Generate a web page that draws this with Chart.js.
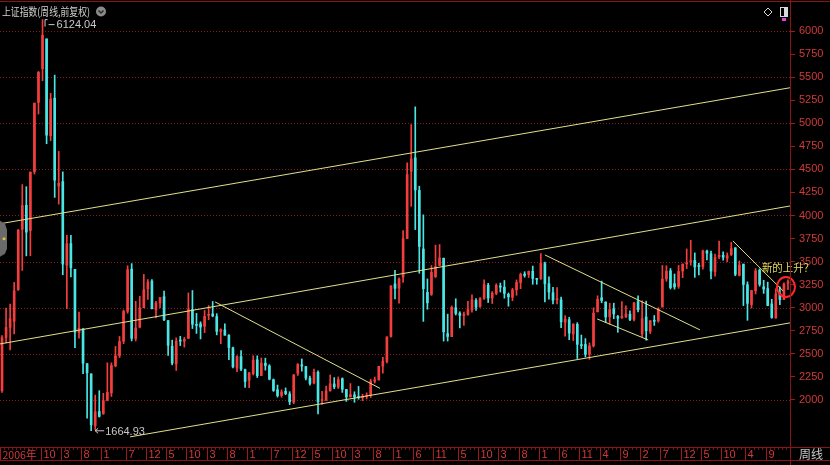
<!DOCTYPE html>
<html>
<head>
<meta charset="utf-8">
<script src="https://cdn.jsdelivr.net/npm/chart.js@4.4.0/dist/chart.umd.min.js"></script>
<style>
  html, body { margin: 0; padding: 0; background: #000; }
  #wrap { width: 830px; height: 465px; }
</style>
</head>
<body>
<div id="wrap"><canvas id="c"></canvas></div>
<script>
// 上证指数 monthly candles, Dec 2006 .. Feb 2023
const open = [
  2100,
  2676, 2786, 2852, 3197, 3850, 4110, 3836, 4474, 5227, 5592, 5915, 4864,
  5272, 4320, 4367, 3460, 3696, 3415, 2730, 2771, 2393, 2282, 1719, 1874,
  1849, 1996, 2076, 2370, 2479, 2636, 2962, 3418, 2665, 2789, 3000, 3205,
  3289, 2976, 3050, 3120, 2860, 2582, 2390, 2647, 2637, 2668, 2980, 2815,
  2825, 2798, 2918, 2932, 2904, 2742, 2759, 2700, 2564, 2344, 2470, 2328,
  2212, 2284, 2434, 2264, 2398, 2368, 2219, 2110, 2048, 2093, 2064, 1974,
  2289, 2382, 2361, 2234, 2183, 2300, 1993, 1996, 2099, 2173, 2139, 2231,
  2113, 2033, 2055, 2033, 2024, 2037, 2050, 2203, 2216, 2366, 2418, 2688,
  3258, 3212, 3333, 3750, 4479, 4625, 4272, 3636, 3166, 3144, 3337, 3456,
  3536, 2718, 2686, 3000, 2940, 2916, 2925, 2976, 3079, 3014, 3102, 3244,
  3105, 3155, 3235, 3222, 3145, 3112, 3194, 3273, 3365, 3360, 3395, 3315,
  3314, 3478, 3260, 3163, 3087, 3084, 2842, 2870, 2716, 2819, 2598, 2601,
  2497, 2586, 2955, 3107, 3061, 2903, 2986, 2905, 2890, 2904, 2928, 2873,
  3067, 2716, 2899, 2743, 2864, 2857, 3007, 3312, 3400, 3260, 3232, 3398,
  3475, 3496, 3513, 3451, 3446, 3614, 3585, 3391, 3551, 3568, 3537, 3576,
  3649, 3350, 3472, 3249, 3034, 3183, 3408, 3226, 3207, 3041, 2888, 3157,
  3088, 3266
];
const high = [
  2698,
  2995, 3040, 3274, 3848, 4335, 4312, 4471, 5219, 5562, 6124.04, 5915, 5325,
  5522, 4695, 4473, 3786, 3786, 3415, 2952, 2774, 2393, 2282, 2052, 2100,
  2071, 2402, 2402, 2579, 2688, 2975, 3455, 3478, 3069, 3124, 3361, 3305,
  3306, 3069, 3110, 3181, 2860, 2648, 2673, 2690, 2678, 3160, 3186, 2938,
  2847, 2970, 3023, 3067, 2935, 2771, 2826, 2707, 2573, 2481, 2536, 2333,
  2300, 2479, 2478, 2454, 2453, 2382, 2227, 2161, 2110, 2130, 2089, 2276,
  2394, 2444, 2363, 2258, 2335, 2315, 2092, 2149, 2270, 2242, 2249, 2239,
  2114, 2177, 2088, 2146, 2062, 2077, 2224, 2248, 2365, 2461, 2683, 3239,
  3406, 3324, 3835, 4572, 4986, 5178, 4318, 4007, 3312, 3457, 3679, 3685,
  3538, 2930, 3019, 3097, 2956, 2951, 3070, 3140, 3098, 3110, 3301, 3264,
  3175, 3260, 3267, 3295, 3160, 3210, 3301, 3376, 3390, 3398, 3451, 3317,
  3587, 3495, 3334, 3220, 3219, 3114, 2915, 2895, 2827, 2838, 2703, 2665,
  2618, 2998, 3129, 3288, 3064, 3048, 3049, 2916, 3067, 3021, 2967, 3058,
  3128, 3075, 3071, 2858, 2915, 3000, 3458, 3455, 3425, 3365, 3458, 3474,
  3637, 3731, 3594, 3481, 3626, 3624, 3613, 3580, 3723, 3605, 3594, 3708,
  3651, 3507, 3473, 3280, 3188, 3424, 3421, 3297, 3277, 3091, 3205, 3226,
  3269, 3301
];
const low = [
  2080,
  2617, 2541, 2716, 3187, 3404, 3562, 3563, 4450, 5100, 5462, 4778, 4812,
  4196, 4123, 3357, 2990, 3333, 2566, 2670, 2284, 1802, 1664.93, 1678, 1814,
  1844, 1990, 2037, 2359, 2459, 2610, 2940, 2640, 2639, 2781, 2999, 3090,
  2986, 2890, 2997, 2860, 2481, 2380, 2319, 2589, 2572, 2665, 2774, 2721,
  2661, 2730, 2869, 2901, 2705, 2610, 2701, 2437, 2348, 2307, 2317, 2134,
  2132, 2270, 2242, 2264, 2323, 2217, 2092, 2030, 2029, 2056, 1949, 1959,
  2265, 2312, 2217, 2161, 2174, 1849, 1951, 1993, 2094, 2121, 2123, 2081,
  1984, 2031, 1974, 2007, 1991, 2010, 2026, 2183, 2216, 2291, 2402, 2680,
  3095, 3050, 3273, 3748, 4099, 3847, 3373, 2851, 2983, 3133, 3327, 3476,
  2638, 2638, 2685, 2920, 2781, 2807, 2918, 2952, 2969, 3002, 3089, 3056,
  3045, 3140, 3170, 3103, 3016, 3075, 3135, 3206, 3331, 3328, 3254, 3254,
  3307, 3062, 3091, 3041, 3041, 2782, 2691, 2653, 2644, 2449, 2556, 2465,
  2440, 2573, 2954, 3053, 2838, 2822, 2880, 2733, 2884, 2891, 2858, 2857,
  2955, 2685, 2647, 2719, 2808, 2842, 3007, 3286, 3202, 3200, 3210, 3326,
  3424, 3461, 3329, 3356, 3417, 3518, 3312, 3342, 3531, 3515, 3498, 3565,
  3346, 3344, 3023, 2863, 2997, 3149, 3233, 3155, 3021, 2885, 2886, 3032,
  3086, 3196
];
const close = [
  2675,
  2786, 2881, 3183, 3841, 4109, 3820, 4471, 5218, 5552, 5954, 4871, 5262,
  4383, 4348, 3473, 3693, 3433, 2736, 2776, 2397, 2293, 1729, 1871, 1821,
  1991, 2082, 2373, 2477, 2633, 2959, 3412, 2668, 2779, 2996, 3195, 3277,
  2989, 3051, 3110, 2870, 2592, 2398, 2638, 2638, 2656, 2979, 2820, 2808,
  2790, 2905, 2928, 2911, 2743, 2762, 2701, 2567, 2359, 2468, 2333, 2199,
  2292, 2428, 2262, 2397, 2373, 2225, 2103, 2047, 2086, 2069, 1980, 2269,
  2385, 2366, 2237, 2178, 2301, 1979, 1994, 2098, 2175, 2141, 2220, 2116,
  2033, 2056, 2033, 2026, 2039, 2048, 2202, 2217, 2364, 2420, 2683, 3235,
  3210, 3310, 3748, 4442, 4612, 4277, 3664, 3206, 3053, 3383, 3445, 3539,
  2738, 2688, 3004, 2938, 2917, 2930, 2979, 3085, 3005, 3100, 3250, 3104,
  3159, 3242, 3223, 3155, 3117, 3192, 3273, 3361, 3349, 3393, 3317, 3307,
  3481, 3259, 3169, 3082, 3095, 2847, 2876, 2725, 2821, 2603, 2588, 2494,
  2585, 2941, 3091, 3078, 2899, 2979, 2932, 2886, 2905, 2929, 2872, 3050,
  2977, 2880, 2750, 2860, 2852, 2985, 3310, 3396, 3218, 3225, 3392, 3473,
  3483, 3509, 3442, 3447, 3615, 3591, 3397, 3544, 3568, 3547, 3564, 3640,
  3362, 3462, 3252, 3047, 3186, 3399, 3253, 3202, 3024, 2893, 3151, 3089,
  3256, 3279
];

// month categories, first one is 2006-12
const months = [];
for (let y = 2006, m = 12; months.length < close.length; ) {
  months.push(y + '-' + String(m).padStart(2, '0'));
  if (++m > 12) { m = 1; y++; }
}

// bottom axis labels
const xTicks = [
  ['2006-12', '2006年'], ['2007-10', '10'], ['2008-03', '3'], ['2008-08', '8'],
  ['2009-01', '1'], ['2009-07', '7'], ['2009-12', '12'], ['2010-05', '5'],
  ['2010-10', '10'], ['2011-03', '3'], ['2011-08', '8'], ['2012-01', '1'],
  ['2012-07', '7'], ['2012-12', '12'], ['2013-05', '5'], ['2013-10', '10'],
  ['2014-03', '3'], ['2014-08', '8'], ['2015-01', '1'], ['2015-06', '6'],
  ['2015-11', '11'], ['2016-05', '5'], ['2016-10', '10'], ['2017-03', '3'],
  ['2017-08', '8'], ['2018-01', '1'], ['2018-06', '6'], ['2018-11', '11'],
  ['2019-04', '4'], ['2019-09', '9'], ['2020-02', '2'], ['2020-07', '7'],
  ['2020-12', '12'], ['2021-05', '5'], ['2021-10', '10'], ['2022-04', '4'],
  ['2022-09', '9']
];
const yMin = 1500, yMax = 6250, yStep = 250;
const gridValues = [2000, 2500, 3000, 3500, 4000, 4500, 5000, 5500, 6000];

// hand drawn lines: [month index, price] -> [month index, price]
const trendLines = [
  [[-0.5, 3910], [194.5, 5385]],
  [[-0.5, 2607], [194.5, 4103]],
  [[31.6, 1599], [194.5, 2835]],
  [[52.6, 3062], [93.3, 2125]],
  [[134.0, 3572], [172.3, 2759]],
  [[146.9, 2878], [159.5, 2650]],
  [[180.4, 3724], [192.8, 3182]]
];
const peakLabel = { month: '2007-10', value: 6124.04, text: '6124.04' };
const lowLabel = { month: '2008-10', value: 1664.93, text: '1664.93' };
const noteText = '新的上升？';
const noteValue = 3225;

const UP = '#f43e3e', DOWN = '#4ae6e6';
const colors = close.map((c, i) => c >= open[i] ? UP : DOWN);
const CJK = '"Noto Sans CJK SC", sans-serif';
const NUM = '"Liberation Sans", Arial, sans-serif';

// dotted price grid, under the candles
const grid = {
  id: 'dotgrid',
  beforeDatasetsDraw(chart) {
    const { ctx, chartArea: a, scales: { y } } = chart;
    ctx.save();
    ctx.fillStyle = '#8c1a1a';
    gridValues.forEach(v => {
      const gy = Math.round(y.getPixelForValue(v));
      for (let gx = a.left; gx < a.right; gx += 3) ctx.fillRect(gx, gy, 1, 1);
    });
    ctx.restore();
  }
};

const decor = {
  id: 'decor',
  afterDatasetsDraw(chart) {
    const { ctx, chartArea: a, scales: { x, y } } = chart;
    ctx.save();
    ctx.beginPath();
    ctx.rect(a.left, a.top, a.right - a.left, a.bottom - a.top);
    ctx.clip();
    ctx.strokeStyle = '#e0e08c';
    ctx.lineWidth = 1;
    trendLines.forEach(([p, q]) => {
      ctx.beginPath();
      ctx.moveTo(x.getPixelForValue(p[0]), y.getPixelForValue(p[1]));
      ctx.lineTo(x.getPixelForValue(q[0]), y.getPixelForValue(q[1]));
      ctx.stroke();
    });
    ctx.restore();

    ctx.save();
    // left handle of the upper line
    const hy = y.getPixelForValue(trendLines[0][0][1]);
    ctx.fillStyle = '#6a6a6a';
    ctx.beginPath();
    ctx.moveTo(0, hy - 3); ctx.lineTo(5, hy); ctx.lineTo(7, hy + 6);
    ctx.lineTo(7, hy + 25); ctx.lineTo(5, hy + 30); ctx.lineTo(0, hy + 33);
    ctx.closePath(); ctx.fill();
    ctx.fillStyle = '#e0c040';
    ctx.beginPath(); ctx.arc(4, hy + 15, 1.5, 0, Math.PI * 2); ctx.fill();

    // extreme labels
    ctx.strokeStyle = '#c8c8c8';
    ctx.fillStyle = '#c8c8c8';
    ctx.font = '11px ' + NUM;
    ctx.textBaseline = 'middle';
    let px = x.getPixelForValue(months.indexOf(peakLabel.month));
    let py = y.getPixelForValue(peakLabel.value);
    ctx.beginPath();
    ctx.moveTo(px + 2.5, py + 7); ctx.lineTo(px + 2.5, py); ctx.lineTo(px + 5, py);
    ctx.moveTo(px + 6, py + 5); ctx.lineTo(px + 12, py + 5);
    ctx.stroke();
    ctx.fillText(peakLabel.text, px + 14, py + 5);

    px = x.getPixelForValue(months.indexOf(lowLabel.month));
    py = y.getPixelForValue(lowLabel.value);
    ctx.beginPath();
    ctx.moveTo(px + 4, py); ctx.lineTo(px + 13, py);
    ctx.moveTo(px + 7, py - 2.5); ctx.lineTo(px + 4, py); ctx.lineTo(px + 7, py + 2.5);
    ctx.stroke();
    ctx.fillText(lowLabel.text, px + 14, py + 1);

    // circle + note
    const cx = x.getPixelForValue(months.length - 1) - 2;
    const cy = y.getPixelForValue(noteValue);
    ctx.strokeStyle = '#ff2828';
    ctx.lineWidth = 2;
    ctx.beginPath(); ctx.ellipse(cx, cy, 9, 10, 0, 0, Math.PI * 2); ctx.stroke();
    ctx.fillStyle = '#e6dc5a';
    ctx.font = '11px ' + CJK;
    ctx.fillText(noteText, cx - 24, cy - 19, 52);

    // frame
    ctx.lineWidth = 1;
    ctx.strokeStyle = '#8c1414';
    ctx.beginPath();
    ctx.moveTo(0, 1.5); ctx.lineTo(830, 1.5);
    ctx.moveTo(a.right + 0.5, 0); ctx.lineTo(a.right + 0.5, 465);
    ctx.moveTo(0, a.bottom + 1.5); ctx.lineTo(830, a.bottom + 1.5);
    ctx.moveTo(0, a.bottom + 14.5); ctx.lineTo(830, a.bottom + 14.5);
    ctx.stroke();

    // bottom axis
    const w = (x.getPixelForValue(1) - x.getPixelForValue(0));
    ctx.strokeStyle = '#7a1010';
    ctx.beginPath();
    for (let i = 0; i < months.length; i++) {
      const bx = Math.round(x.getPixelForValue(i) - w / 2) + 0.5;
      ctx.moveTo(bx, a.bottom + 2); ctx.lineTo(bx, a.bottom + 4);
    }
    ctx.stroke();
    ctx.strokeStyle = '#a01818';
    ctx.fillStyle = '#d03a3a';
    xTicks.forEach(([m, t]) => {
      const bx = Math.round(x.getPixelForValue(months.indexOf(m)) - w / 2) + 0.5;
      ctx.beginPath(); ctx.moveTo(bx, a.bottom + 2); ctx.lineTo(bx, a.bottom + 14); ctx.stroke();
      const cjk = /年/.test(t);
      ctx.font = '11px ' + (cjk ? CJK : NUM);
      ctx.fillText(t, bx + 2, a.bottom + 8.5, cjk ? 34 : 30);
    });
    ctx.fillStyle = '#c8c8c8';
    ctx.font = '12px ' + CJK;
    ctx.fillText('周线', 799, a.bottom + 8.5);

    // title
    ctx.fillStyle = '#d0d0d0';
    ctx.font = '11px ' + CJK;
    ctx.fillText('上证指数(周线,前复权)', 2, 12, 88);
    ctx.fillStyle = '#8a8a8a';
    ctx.beginPath(); ctx.arc(101, 11.5, 5, 0, Math.PI * 2); ctx.fill();
    ctx.strokeStyle = '#2a2a2a';
    ctx.lineWidth = 1.5;
    ctx.beginPath(); ctx.moveTo(98.5, 10.5); ctx.lineTo(101, 13); ctx.lineTo(103.5, 10.5); ctx.stroke();

    // top right icons
    ctx.lineWidth = 1;
    ctx.strokeStyle = '#d8d8d8';
    ctx.beginPath();
    ctx.moveTo(768, 8); ctx.lineTo(772, 12); ctx.lineTo(768, 16); ctx.lineTo(764, 12); ctx.closePath();
    ctx.stroke();
    ctx.strokeRect(780.5, 7.5, 7, 9);
    ctx.fillStyle = '#d8d8d8';
    ctx.fillRect(784, 8, 3, 8);
    ctx.fillStyle = '#e040e0';
    ctx.fillRect(782, 18, 4, 3);
    ctx.restore();
  }
};

new Chart(document.getElementById('c'), {
  type: 'bar',
  data: {
    labels: months,
    datasets: [
      {
        data: months.map((_, i) => [open[i], close[i]]),
        backgroundColor: colors,
        barThickness: 2,
        grouped: false,
        minBarLength: 1
      },
      {
        data: months.map((_, i) => [low[i], high[i]]),
        backgroundColor: colors,
        barThickness: 1,
        grouped: false
      }
    ]
  },
  options: {
    responsive: true,
    maintainAspectRatio: false,
    animation: false,
    events: [],
    layout: { padding: { left: 0, right: 0, top: 8, bottom: 19 } },
    plugins: { legend: { display: false }, tooltip: { enabled: false } },
    scales: {
      x: { display: false, offset: true },
      y: {
        position: 'right',
        min: yMin,
        max: yMax,
        afterFit(s) { s.width = 40; s.paddingTop = 0; s.paddingBottom = 0; },
        ticks: {
          stepSize: yStep,
          color: '#d03a3a',
          font: { family: NUM, size: 11 },
          padding: 4,
          callback: v => (v >= 2000 && v <= 6000) ? v : ''
        },
        grid: {
          drawOnChartArea: false,
          tickColor: c => (c.tick && c.tick.value >= 2000 && c.tick.value <= 6000) ? '#a01818' : 'rgba(0,0,0,0)',
          tickLength: 5
        },
        border: { display: false }
      }
    }
  },
  plugins: [grid, decor]
});
</script>
</body>
</html>
